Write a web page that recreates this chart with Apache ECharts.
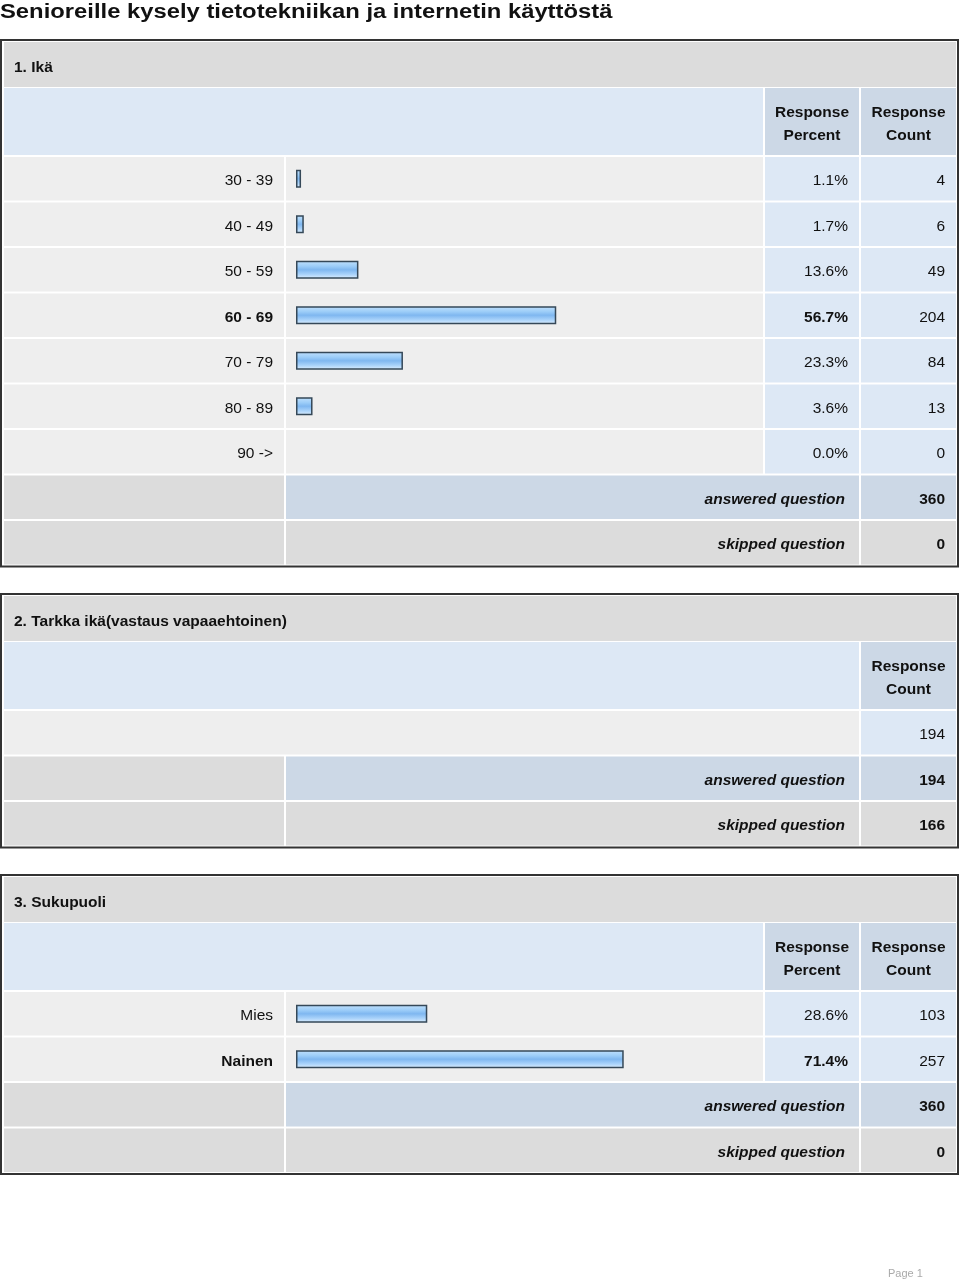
<!DOCTYPE html>
<html><head><meta charset="utf-8">
<script src="https://cdn.jsdelivr.net/npm/echarts@6/dist/echarts.min.js"></script>
<style>html,body{margin:0;padding:0;background:#fff}#c{width:960px;height:1282px}</style>
</head><body><div id="c"></div>
<script>
// ---- data ----
var pageTitle = 'Senioreille kysely tietotekniikan ja internetin käyttöstä';
var q1Title = '1. Ikä';
var q1Categories = ['30 - 39', '40 - 49', '50 - 59', '60 - 69', '70 - 79', '80 - 89', '90 ->'];
var q1Percent = [1.1, 1.7, 13.6, 56.7, 23.3, 3.6, 0.0];
var q1Count = [4, 6, 49, 204, 84, 13, 0];
var q1Answered = 360;
var q1Skipped = 0;

var q2Title = '2. Tarkka ikä(vastaus vapaaehtoinen)';
var q2Count = [194];
var q2Answered = 194;
var q2Skipped = 166;

var q3Title = '3. Sukupuoli';
var q3Categories = ['Mies', 'Nainen'];
var q3Percent = [28.6, 71.4];
var q3Count = [103, 257];
var q3Answered = 360;
var q3Skipped = 0;

// ---- layout ----
var FONT = '"Liberation Sans", Arial, Helvetica, sans-serif';
var FS = 15.5;
var C = {
  title: '#dcdcdc', head: '#dde8f5', headDark: '#ccd8e6',
  row: '#eeeeee', cell: '#dde8f5', sumGray: '#dcdcdc', sumBlue: '#ccd8e6'
};
var X0 = 4, X0e = 284, X1 = 286, X1e = 763, X2 = 765, X2e = 859, X3 = 861, X3e = 956;
var ROWH = 45.5, GAP = 2;
var graphics = [];

function rect(x, y, w, h, fill) {
  graphics.push({ type: 'rect', shape: { x: x, y: y, width: w, height: h }, style: { fill: fill }, silent: true });
}
function text(t, x, y, align, opt) {
  opt = opt || {};
  graphics.push({
    type: 'text', x: x, y: y + 2, silent: true,
    style: {
      text: t, x: 0, y: 0, align: align, verticalAlign: 'middle',
      font: (opt.italic ? 'italic ' : '') + (opt.bold ? 'bold ' : '') + (opt.size || FS) + 'px ' + FONT,
      fill: opt.color || '#111'
    }
  });
}
function rowY(top, r) { return top + 117 + ROWH * r; }

function table(top, nRows, hasPercent, titleText) {
  var h = 117 + ROWH * nRows;
  graphics.push({ type: 'rect', shape: { x: 1, y: top, width: 957, height: h }, style: { fill: '#fff', stroke: '#333', lineWidth: 2 }, silent: true });
  rect(X0, top + 2, X3e - X0, 45, C.title);
  text(titleText, 14, top + 26, 'left', { bold: true });
  if (hasPercent) {
    rect(X0, top + 48, X1e - X0, 67, C.head);
    rect(X2, top + 48, X2e - X2, 67, C.headDark);
    text('Response', (X2 + X2e) / 2, top + 71, 'center', { bold: true });
    text('Percent', (X2 + X2e) / 2, top + 94, 'center', { bold: true });
  } else {
    rect(X0, top + 48, X2e - X0, 67, C.head);
  }
  rect(X3, top + 48, X3e - X3, 67, C.headDark);
  text('Response', (X3 + X3e) / 2, top + 71, 'center', { bold: true });
  text('Count', (X3 + X3e) / 2, top + 94, 'center', { bold: true });
}
function summary(top, r, answered, skipped) {
  var y = rowY(top, r);
  rect(X0, y, X0e - X0, ROWH - GAP, C.sumGray);
  rect(X1, y, X2e - X1, ROWH - GAP, C.sumBlue);
  rect(X3, y, X3e - X3, ROWH - GAP, C.sumBlue);
  text('answered question', 845, y + 22, 'right', { bold: true, italic: true });
  text(String(answered), 945, y + 22, 'right', { bold: true });
  y = rowY(top, r + 1);
  rect(X0, y, X0e - X0, ROWH - GAP, C.sumGray);
  rect(X1, y, X2e - X1, ROWH - GAP, C.sumGray);
  rect(X3, y, X3e - X3, ROWH - GAP, C.sumGray);
  text('skipped question', 845, y + 22, 'right', { bold: true, italic: true });
  text(String(skipped), 945, y + 22, 'right', { bold: true });
}
function dataRows(top, cats, pct, cnt) {
  var maxI = pct.indexOf(Math.max.apply(null, pct));
  cats.forEach(function (c, i) {
    var y = rowY(top, i);
    rect(X0, y, X0e - X0, ROWH - GAP, C.row);
    rect(X1, y, X1e - X1, ROWH - GAP, C.row);
    rect(X2, y, X2e - X2, ROWH - GAP, C.cell);
    rect(X3, y, X3e - X3, ROWH - GAP, C.cell);
    var b = i === maxI;
    text(c, 273, y + 22, 'right', { bold: b });
    text(pct[i].toFixed(1) + '%', 848, y + 22, 'right', { bold: b });
    text(String(cnt[i]), 945, y + 22, 'right');
  });
}

var T1 = 40, T2 = 594, T3 = 875;
table(T1, q1Categories.length + 2, true, q1Title);
dataRows(T1, q1Categories, q1Percent, q1Count);
summary(T1, q1Categories.length, q1Answered, q1Skipped);

table(T2, 3, false, q2Title);
(function () {
  var y = rowY(T2, 0);
  rect(X0, y, X2e - X0, ROWH - GAP, C.row);
  rect(X3, y, X3e - X3, ROWH - GAP, C.cell);
  text(String(q2Count[0]), 945, y + 22, 'right');
})();
summary(T2, 1, q2Answered, q2Skipped);

table(T3, q3Categories.length + 2, true, q3Title);
dataRows(T3, q3Categories, q3Percent, q3Count);
summary(T3, q3Categories.length, q3Answered, q3Skipped);

graphics.push({
  type: 'text', x: 0, y: 12, scaleX: 1.19, silent: true,
  style: { text: pageTitle, x: 0, y: 0, align: 'left', verticalAlign: 'middle', font: 'bold 20px ' + FONT, fill: '#111' }
});
text('Page 1', 888, 1272, 'left', { size: 11, color: '#aaa' });

var barStyle = {
  color: { type: 'linear', x: 0, y: 0, x2: 0, y2: 1, colorStops: [
    { offset: 0, color: '#c2e1fd' }, { offset: 0.3, color: '#9ccdf8' },
    { offset: 0.5, color: '#7fb7f0' }, { offset: 0.75, color: '#a8d2fa' }, { offset: 1, color: '#e0f0ff' }] },
  borderColor: '#354858', borderWidth: 1.5
};
function barData(arr) {
  return arr.map(function (v) { return v > 0 ? v : { value: v, itemStyle: { borderWidth: 0, opacity: 0 } }; });
}
var BAR_W = 459;
function grid(top, n) { return { left: 296, width: BAR_W, top: rowY(top, 0) - 1, height: ROWH * n, containLabel: false }; }
function xAx(i) { return { type: 'value', gridIndex: i, min: 0, max: 100, show: false }; }
function yAx(i, cats) { return { type: 'category', gridIndex: i, data: cats, inverse: true, show: false }; }

var option = {
  animation: false,
  grid: [grid(T1, q1Categories.length), grid(T3, q3Categories.length)],
  xAxis: [xAx(0), xAx(1)],
  yAxis: [yAx(0, q1Categories), yAx(1, q3Categories)],
  series: [
    { type: 'bar', xAxisIndex: 0, yAxisIndex: 0, data: barData(q1Percent), barWidth: 18, itemStyle: barStyle, z: 10, silent: true },
    { type: 'bar', xAxisIndex: 1, yAxisIndex: 1, data: barData(q3Percent), barWidth: 18, itemStyle: barStyle, z: 10, silent: true }
  ],
  graphic: { elements: graphics }
};
var chart = echarts.init(document.getElementById('c'));
chart.setOption(option);
</script></body></html>
